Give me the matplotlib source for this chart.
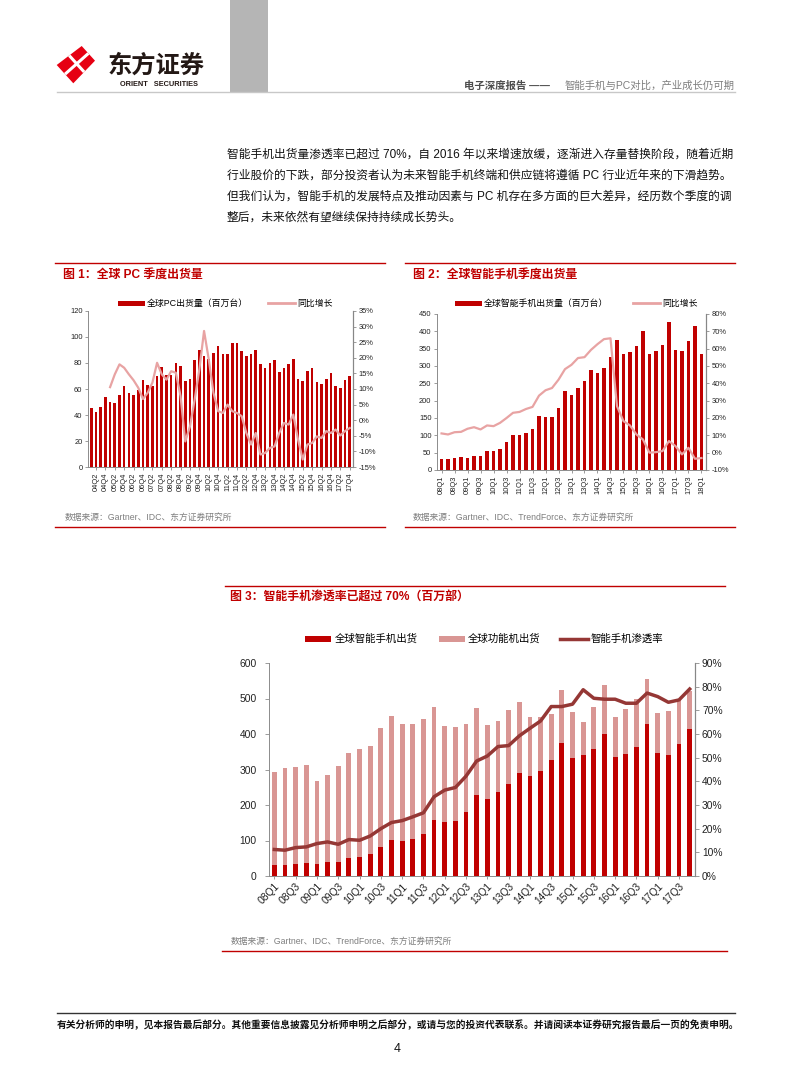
import matplotlib
matplotlib.use("Agg")
import matplotlib.pyplot as plt
from matplotlib.patches import Rectangle, Polygon
import numpy as np

W, H = 793, 1077
MIX = ["Liberation Sans", "Noto Sans CJK SC", "DejaVu Sans"]
plt.rcParams["font.family"] = MIX

RED = "#C00000"
PINK_LINE = "#E8A3A3"
FEAT = "#D99694"
PEN = "#953735"
GREY_TXT = "#7F7F7F"
AXIS_GREY = "#8C8C8C"

# ---- 图1 全球PC季度出货量 (04Q1-17Q4)
pc_quarters = [f"{y:02d}Q{q}" for y in range(4, 18) for q in range(1, 5)]
pc_ship = [45, 42, 46, 54, 50, 49, 55, 62, 57, 55, 59, 67, 63, 62, 70, 77,
           71, 71, 80, 78, 66, 68, 82, 90, 85, 83, 88, 93, 87, 87, 95, 95,
           89, 85, 87, 90, 79, 76, 80, 82, 73, 76, 79, 83, 68, 66, 74, 76,
           65, 64, 68, 72, 62, 61, 67, 70]
# 同比增长从05Q1开始
pc_yoy = [10.6, 14.7, 17.9, 16.8, 14.7, 12.8, 10.4, 6.8, 8.8, 12, 18.4, 14.7,
          13, 15.7, 15.2, 7.7, -6.8, -2, 6.6, 16.3, 28.6, 19.5, 8.8, 2.9, 2.3,
          5, 2.9, 2.3, 1.3, -4.1, -7.8, -4.1, -11, -10.5, -8.9, -8.4, -4.1,
          -0.9, -1.4, 1.8, -6.2, -12.6, -7.8, -7.3, -5.2, -5.7, -3.5, -4.1,
          -3, -4.9, -3.5, -2.5]

# ---- 图2 全球智能手机季度出货量 (08Q1-18Q1)
sp_quarters = [f"{y:02d}Q{q}" for y in range(8, 18) for q in range(1, 5)] + ["18Q1"]
sp_ship = [32, 32, 36, 38, 36, 41, 41, 54, 55, 62, 82, 101, 100, 108, 118, 157,
           152, 154, 180, 228, 216, 237, 258, 289, 281, 295, 327, 375, 334, 341,
           358, 400, 334, 342, 362, 428, 347, 342, 373, 414, 336]
sp_yoy = [11.1, 10.5, 11.8, 12, 13.8, 14.7, 13.4, 15.7, 15.3, 17.2, 20, 23,
          23.5, 25.2, 26.4, 32.9, 36, 37.3, 42.1, 48.2, 50.7, 54.6, 55.1, 59.3,
          62.6, 65.5, 66, 26.8, 18.2, 15.7, 10.5, 7.6, 0, 0.3, 0.9, 6.7, 3.8,
          -1, 2.8, -3.5, -3.1]

# ---- 图3 智能手机渗透率 (08Q1-17Q4)
c3_quarters = sp_quarters[:40]
c3_smart = [30, 30, 35, 38, 35, 40, 40, 52, 53, 61, 81, 101, 98, 105, 118, 157,
            152, 154, 180, 228, 216, 237, 258, 289, 281, 295, 328, 375, 333, 342,
            359, 400, 334, 343, 363, 428, 347, 342, 372, 414]
c3_feature = [264, 273, 273, 276, 233, 245, 269, 294, 306, 306, 335, 350, 329,
              323, 323, 319, 270, 265, 247, 245, 209, 200, 210, 200, 168, 152,
              128, 149, 128, 93, 118, 138, 115, 128, 135, 128, 113, 123, 123, 106]
c3_pen = [11.2, 10.9, 12, 12.3, 13.7, 14.4, 13.4, 15.4, 15.1, 16.9, 20, 22.6,
          23.4, 25, 26.7, 33.5, 36.3, 37.4, 42.2, 48.6, 50.7, 54.7, 55.1, 59.2,
          62.4, 65.5, 71.6, 71.6, 72.6, 78.7, 75.1, 74.7, 74.7, 73, 73, 77.3,
          75.8, 73.4, 74.4, 79]

body_lines = [
    "智能手机出货量渗透率已超过 70%，自 2016 年以来增速放缓，逐渐进入存量替换阶段，随着近期",
    "行业股价的下跌，部分投资者认为未来智能手机终端和供应链将遵循 PC 行业近年来的下滑趋势。",
    "但我们认为，智能手机的发展特点及推动因素与 PC 机存在多方面的巨大差异，经历数个季度的调",
    "整后，未来依然有望继续保持持续成长势头。",
]


def add_ax(x0, y0, x1, y1):
    return fig.add_axes([x0 / W, 1 - y1 / H, (x1 - x0) / W, (y1 - y0) / H])


def style(ax, axr, size):
    ax.spines["top"].set_visible(False)
    axr.spines["top"].set_visible(False)
    for sp in ["left", "bottom"]:
        ax.spines[sp].set_color(AXIS_GREY)
        ax.spines[sp].set_linewidth(0.7)
    axr.spines["right"].set_color(AXIS_GREY)
    axr.spines["right"].set_linewidth(0.7)
    axr.spines["left"].set_visible(False)
    axr.spines["bottom"].set_visible(False)
    ax.tick_params(axis="both", labelsize=size, colors="#222222", length=2,
                   width=0.6, pad=2)
    axr.tick_params(axis="y", labelsize=size, colors="#222222", length=2,
                    width=0.6, pad=2)
    ax.tick_params(axis="x", color=AXIS_GREY)
    ax.tick_params(axis="y", color=AXIS_GREY)
    axr.tick_params(axis="y", color=AXIS_GREY)


fig = plt.figure(figsize=(W / 100, H / 100), dpi=100)
page = fig.add_axes([0, 0, 1, 1])
page.set_xlim(0, W)
page.set_ylim(H, 0)
page.axis("off")

# ---- 页眉
page.add_patch(Rectangle((230, 0), 38, 92, color="#B5B5B5", lw=0))
page.plot([57, 735], [92, 92], color="#C8C8C8", lw=1)
logo = [(56.7, 65), (81.7, 46), (95, 60.7), (73.3, 83.3)]
page.add_patch(Polygon(logo, closed=True, color="#E60012", lw=0))
page.plot([69.2, 84.2], [55.5, 72], color="white", lw=2.2, solid_capstyle="butt")
page.plot([88.4, 65], [53.4, 74.2], color="white", lw=2.2, solid_capstyle="butt")
page.text(108, 66, "东方证券", fontsize=17.5, fontweight="bold", color="#231815",
          va="center", ha="left")
page.text(159.5, 84.5, "ORIENT   SECURITIES", fontsize=5.3, fontweight="bold",
          color="#231815", va="center", ha="center")
page.text(464, 86, "电子深度报告 ——", fontsize=7.5, fontweight="bold",
          color="#4D4D4D", va="center", ha="left")
page.text(735, 86, "智能手机与PC对比，产业成长仍可期", fontsize=7.5,
          color="#7F7F7F", va="center", ha="right")

# ---- 正文
for i, line in enumerate(body_lines):
    page.text(227, 155 + 21 * i, line, fontsize=8.45, color="#111111",
              va="center", ha="left")

# ---- 图框与标题
for x0, x1 in [(55, 385), (405, 735)]:
    page.plot([x0, x1], [263, 263], color=RED, lw=1)
    page.plot([x0, x1], [527, 527], color=RED, lw=1)
page.plot([225, 725], [586, 586], color=RED, lw=1)
page.plot([222, 727], [951, 951], color=RED, lw=1)

page.text(63, 275, "图 1：全球 PC 季度出货量", fontsize=8.6, fontweight="bold",
          color=RED, va="center")
page.text(413, 275, "图 2：全球智能手机季度出货量", fontsize=8.6, fontweight="bold",
          color=RED, va="center")
page.text(230, 597, "图 3：智能手机渗透率已超过 70%（百万部）", fontsize=8.6,
          fontweight="bold", color=RED, va="center")

page.text(65, 517, "数据来源：Gartner、IDC、东方证券研究所", fontsize=6.3,
          color=GREY_TXT, va="center")
page.text(413, 517, "数据来源：Gartner、IDC、TrendForce、东方证券研究所", fontsize=6.3,
          color=GREY_TXT, va="center")
page.text(231, 941, "数据来源：Gartner、IDC、TrendForce、东方证券研究所", fontsize=6.3,
          color=GREY_TXT, va="center")

# ---- 图例
page.add_patch(Rectangle((118, 300.5), 27, 5, color=RED, lw=0))
page.text(147, 303, "全球PC出货量（百万台）", fontsize=6.4, va="center")
page.plot([268, 295], [303, 303], color=PINK_LINE, lw=2)
page.text(297, 303, "同比增长", fontsize=6.4, va="center")

page.add_patch(Rectangle((455, 300.5), 27, 5, color=RED, lw=0))
page.text(484, 303, "全球智能手机出货量（百万台）", fontsize=6.4, va="center")
page.plot([633, 660], [303, 303], color=PINK_LINE, lw=2)
page.text(662, 303, "同比增长", fontsize=6.4, va="center")

page.add_patch(Rectangle((305, 635.5), 26, 6, color=RED, lw=0))
page.text(335, 638.5, "全球智能手机出货", fontsize=7.5, va="center")
page.add_patch(Rectangle((439, 635.5), 26, 6, color=FEAT, lw=0))
page.text(468, 638.5, "全球功能机出货", fontsize=7.5, va="center")
page.plot([560, 588], [638.5, 638.5], color=PEN, lw=2.5)
page.text(591, 638.5, "智能手机渗透率", fontsize=7.5, va="center")

# ---- 图1
ax1 = add_ax(88, 311, 353, 467)
x1 = np.arange(len(pc_ship))
ax1.bar(x1, pc_ship, width=0.55, color=RED)
ax1.set_xlim(-0.7, len(pc_ship) - 0.3)
ax1.set_ylim(0, 120)
ax1.set_yticks(range(0, 121, 20))
ax1.set_xticks(x1[1::2])
ax1.set_xticklabels(pc_quarters[1::2], rotation=90)
ax1r = ax1.twinx()
ax1r.plot(x1[4:], pc_yoy, color=PINK_LINE, lw=1.6)
ax1r.set_ylim(-15, 35)
ax1r.set_yticks(range(-15, 36, 5))
ax1r.set_yticklabels([f"{v}%" for v in range(-15, 36, 5)])
style(ax1, ax1r, 5.4)

# ---- 图2
ax2 = add_ax(437, 314, 706, 470)
x2 = np.arange(len(sp_ship))
ax2.bar(x2, sp_ship, width=0.5, color=RED)
ax2.set_xlim(-0.7, len(sp_ship) - 0.3)
ax2.set_ylim(0, 450)
ax2.set_yticks(range(0, 451, 50))
ax2.set_xticks(x2[0::2])
ax2.set_xticklabels(sp_quarters[0::2], rotation=90)
ax2r = ax2.twinx()
ax2r.plot(x2, sp_yoy, color=PINK_LINE, lw=1.6)
ax2r.set_ylim(-10, 80)
ax2r.set_yticks(range(-10, 81, 10))
ax2r.set_yticklabels([f"{v}%" for v in range(-10, 81, 10)])
style(ax2, ax2r, 5.4)

# ---- 图3
ax3 = add_ax(269, 663, 695, 876)
x3 = np.arange(len(c3_smart))
ax3.bar(x3, c3_smart, width=0.45, color=RED)
ax3.bar(x3, c3_feature, width=0.45, bottom=c3_smart, color=FEAT)
ax3.set_xlim(-0.5, len(c3_smart) - 0.5)
ax3.set_ylim(0, 600)
ax3.set_yticks(range(0, 601, 100))
ax3.set_xticks(x3[0::2])
ax3.set_xticklabels(c3_quarters[0::2], rotation=45, ha="right",
                    rotation_mode="anchor")
ax3r = ax3.twinx()
ax3r.plot(x3, c3_pen, color=PEN, lw=2.5)
ax3r.set_ylim(0, 90)
ax3r.set_yticks(range(0, 91, 10))
ax3r.set_yticklabels([f"{v}%" for v in range(0, 91, 10)])
style(ax3, ax3r, 7.4)
ax3.tick_params(axis="y", pad=6, length=3)
ax3r.tick_params(axis="y", pad=2, length=3)

# ---- 页脚
page.plot([57, 735], [1013, 1013], color="#333333", lw=1)
page.text(57, 1025, "有关分析师的申明，见本报告最后部分。其他重要信息披露见分析师申明之后部分，或请与您的投资代表联系。并请阅读本证券研究报告最后一页的免责申明。",
          fontsize=7.0, fontweight="bold", color="#111111", va="center")
page.text(397, 1049, "4", fontsize=9, color="#111111", va="center", ha="center")

fig.savefig("out.png", dpi=100)
